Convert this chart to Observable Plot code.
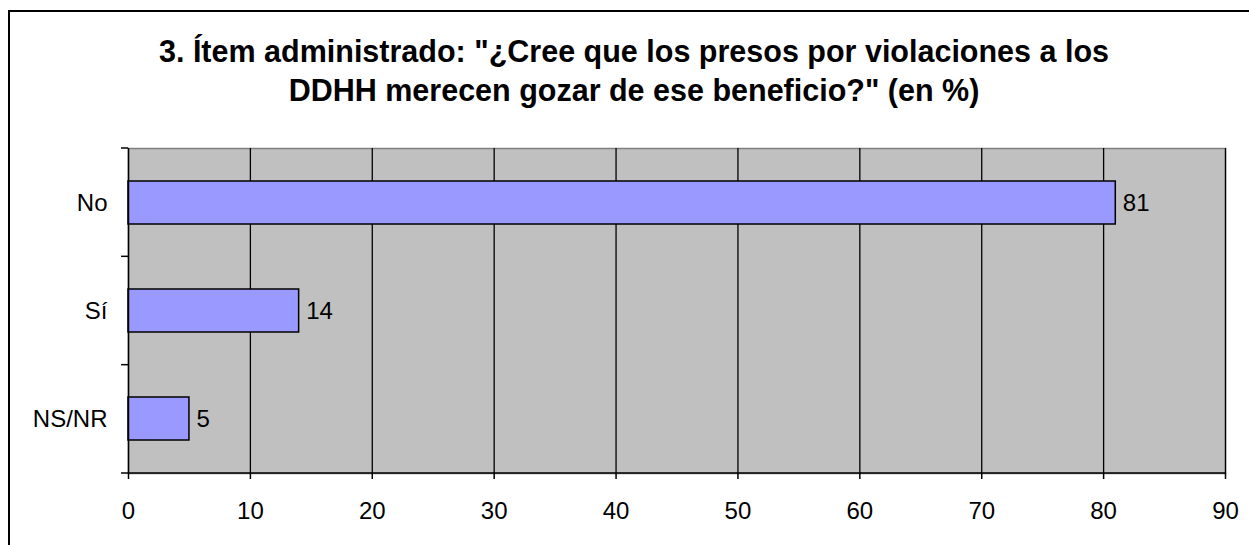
<!DOCTYPE html>
<html>
<head>
<meta charset="utf-8">
<script src="https://cdn.jsdelivr.net/npm/d3@7"></script>
<script src="https://cdn.jsdelivr.net/npm/@observablehq/plot@0.6"></script>
<style>
  html, body { margin: 0; padding: 0; background: #fff; overflow: hidden; }
  #wrap { position: relative; width: 1249px; height: 545px; overflow: hidden; font-family: "Liberation Sans", Arial, sans-serif; }
  #border { position: absolute; left: 8px; top: 10px; width: 1300px; height: 600px; border: 2px solid #000; box-sizing: border-box; }
  #title { position: absolute; left: 8px; width: 1252px; top: 32px; text-align: center; font-weight: bold; font-size: 30.5px; line-height: 39px; color: #000; white-space: nowrap; }
  #chart { position: absolute; left: 0; top: 0; }
</style>
</head>
<body>
<div id="wrap">
  <div id="border"></div>
  <div id="title">3. Ítem administrado: "¿Cree que los presos por violaciones a los<br>DDHH merecen gozar de ese beneficio?" (en %)</div>
  <div id="chart"></div>
</div>
<script>
const categories = ["No", "Sí", "NS/NR"];
const values = [81, 14, 5];
const xTicks = [0, 10, 20, 30, 40, 50, 60, 70, 80, 90];

const data = categories.map((c, i) => ({cat: c, value: values[i]}));

const chart = Plot.plot({
  width: 1249,
  height: 545,
  marginLeft: 128,
  marginRight: 24,
  marginTop: 148,
  marginBottom: 72,
  style: {fontFamily: "'Liberation Sans', Arial, sans-serif", fontSize: "24px", color: "#000", background: "transparent"},
  x: {domain: [0, 90], axis: null},
  y: {domain: categories, paddingInner: 0.6, paddingOuter: 0.3, axis: null},
  marks: [
    Plot.frame({fill: "#C0C0C0", stroke: "#808080", strokeWidth: 1.5}),
    Plot.ruleX(xTicks.slice(1), {stroke: "#000", strokeWidth: 1.3}),
    Plot.barX(data, {x: "value", y: "cat", fill: "#9999FF", stroke: "#000", strokeWidth: 1.5}),
    Plot.text(data, {x: "value", y: "cat", text: d => String(d.value), textAnchor: "start", dx: 7, fontSize: 24, fill: "#000"}),
    Plot.ruleX([0], {stroke: "#000", strokeWidth: 1.5}),
    Plot.axisX({ticks: xTicks, tickSize: 6, tickPadding: 22, fontSize: 24, stroke: "#000", strokeWidth: 1.5, anchor: "bottom", label: null}),
    Plot.axisY({tickSize: 0, tickPadding: 21, fontSize: 24, anchor: "left", label: null}),
    // y tick marks at category boundaries, and bottom axis line
    Plot.ruleY(categories, {y: d => d, render: (index, scales, values, dims) => {
      const g = d3.create("svg:g");
      const top = dims.marginTop, bottom = dims.height - dims.marginBottom;
      const left = dims.marginLeft, right = dims.width - dims.marginRight;
      const n = categories.length;
      for (let i = 0; i <= n; i++) {
        const yy = top + (bottom - top) * i / n;
        g.append("line").attr("x1", left - 7).attr("x2", left).attr("y1", yy).attr("y2", yy)
          .attr("stroke", "#000").attr("stroke-width", 1.5);
      }
      g.append("line").attr("x1", left).attr("x2", right).attr("y1", bottom).attr("y2", bottom)
        .attr("stroke", "#000").attr("stroke-width", 1.5);
      return g.node();
    }})
  ]
});
document.getElementById("chart").appendChild(chart);
</script>
</body>
</html>
